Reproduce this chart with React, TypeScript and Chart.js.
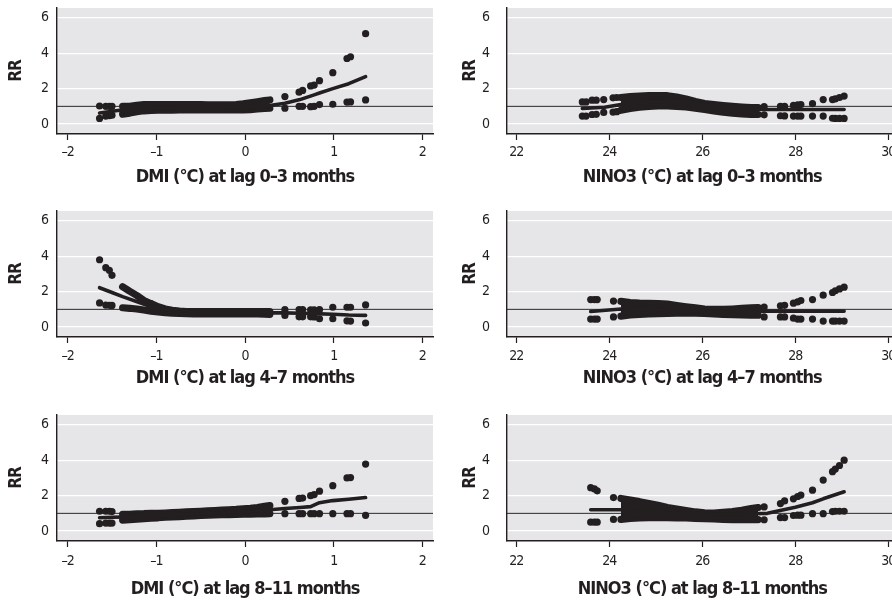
import React, { useEffect, useRef } from 'react';
import { Chart, registerables } from 'chart.js';

Chart.register(...registerables);

const INK = '#231f20';
const PANEL_BG = '#e6e6e8';
const FONT = "'Liberation Sans Narrow', 'Arial Narrow', 'DejaVu Sans Condensed', 'Liberation Sans', sans-serif";

// ---- axes ----
const yTicks = [0, 2, 4, 6];
const yRange = [-0.56, 6.55];
const refRR = 1;
const dmiTicks = [-2, -1, 0, 1, 2];
const dmiRange = [-2.12, 2.12];
const ninoTicks = [22, 24, 26, 28, 30];
const ninoRange = [21.8, 30.2];
const yTitle = 'RR';

const titles = [
  'DMI (°C) at lag 0–3 months',
  'NINO3 (°C) at lag 0–3 months',
  'DMI (°C) at lag 4–7 months',
  'NINO3 (°C) at lag 4–7 months',
  'DMI (°C) at lag 8–11 months',
  'NINO3 (°C) at lag 8–11 months',
];

// ---- DMI x values ----
const dmiSparseX = [-1.64, -1.57, -1.53, -1.5, 0.45, 0.61, 0.65, 0.74, 0.78, 0.84, 0.99, 1.15, 1.19, 1.36];
const dmiDenseX = [-1.38, -1.3, -1.22, -1.14, -1.06, -0.98, -0.9, -0.82, -0.74, -0.66, -0.58, -0.5, -0.42, -0.34, -0.26, -0.18, -0.1, -0.02, 0.06, 0.14, 0.22, 0.28];

// DMI lag 0–3
const dmi03SparseUpper = [1.02, 1.0, 1.0, 1.0, 1.55, 1.8, 1.9, 2.15, 2.2, 2.45, 2.9, 3.7, 3.8, 5.1];
const dmi03SparseLower = [0.32, 0.45, 0.47, 0.5, 0.9, 1.0, 1.0, 0.98, 1.0, 1.1, 1.12, 1.24, 1.25, 1.36];
const dmi03DenseUpper = [1.0, 1.0, 1.06, 1.1, 1.1, 1.1, 1.1, 1.1, 1.1, 1.1, 1.1, 1.1, 1.08, 1.08, 1.08, 1.08, 1.1, 1.14, 1.2, 1.26, 1.32, 1.36];
const dmi03DenseLower = [0.56, 0.62, 0.7, 0.75, 0.77, 0.78, 0.78, 0.79, 0.8, 0.8, 0.8, 0.8, 0.8, 0.8, 0.8, 0.8, 0.8, 0.8, 0.82, 0.85, 0.88, 0.9];
const dmi03EstX = [-1.64, -1.5, -1.3, -1.0, -0.5, 0.0, 0.28, 0.45, 0.62, 0.78, 0.84, 0.99, 1.17, 1.36];
const dmi03Est = [0.62, 0.72, 0.85, 0.93, 0.95, 0.97, 1.05, 1.18, 1.38, 1.65, 1.75, 2.0, 2.28, 2.68];

// DMI lag 4–7
const dmi47SparseUpper = [3.8, 3.35, 3.2, 2.92, 0.98, 0.98, 0.98, 0.97, 0.97, 0.98, 1.12, 1.12, 1.12, 1.25];
const dmi47SparseLower = [1.36, 1.24, 1.23, 1.22, 0.66, 0.58, 0.58, 0.58, 0.57, 0.47, 0.47, 0.35, 0.34, 0.23];
const dmi47DenseUpper = [2.28, 2.02, 1.78, 1.5, 1.32, 1.15, 1.02, 0.95, 0.9, 0.88, 0.88, 0.88, 0.87, 0.87, 0.87, 0.87, 0.87, 0.87, 0.87, 0.87, 0.87, 0.87];
const dmi47DenseLower = [1.09, 1.06, 1.02, 0.96, 0.9, 0.86, 0.82, 0.79, 0.77, 0.76, 0.75, 0.75, 0.75, 0.75, 0.75, 0.74, 0.74, 0.74, 0.74, 0.74, 0.73, 0.72];
const dmi47EstX = [-1.64, -1.5, -1.38, -1.2, -1.0, -0.5, 0.0, 0.28, 0.45, 0.62, 0.78, 0.99, 1.17, 1.36];
const dmi47Est = [2.22, 1.95, 1.72, 1.4, 1.05, 0.82, 0.8, 0.8, 0.8, 0.78, 0.76, 0.72, 0.68, 0.66];
const dmi47FillFrom = -1.06;

// DMI lag 8–11
const dmi811SparseUpper = [1.12, 1.12, 1.12, 1.1, 1.68, 1.84, 1.86, 2.0, 2.06, 2.25, 2.56, 3.0, 3.02, 3.78];
const dmi811SparseLower = [0.42, 0.45, 0.45, 0.45, 0.98, 0.98, 0.98, 0.98, 0.98, 0.98, 0.98, 0.98, 0.98, 0.89];
const dmi811DenseUpper = [0.95, 0.95, 0.97, 0.98, 1.0, 1.0, 1.02, 1.04, 1.06, 1.08, 1.1, 1.12, 1.14, 1.16, 1.18, 1.2, 1.22, 1.25, 1.28, 1.33, 1.4, 1.44];
const dmi811DenseLower = [0.62, 0.64, 0.67, 0.7, 0.73, 0.75, 0.78, 0.8, 0.82, 0.84, 0.86, 0.88, 0.9, 0.91, 0.92, 0.93, 0.94, 0.95, 0.96, 0.97, 0.97, 0.98];
const dmi811EstX = [-1.64, -1.5, -1.3, -1.0, -0.5, 0.0, 0.28, 0.45, 0.62, 0.74, 0.84, 0.99, 1.17, 1.36];
const dmi811Est = [0.75, 0.78, 0.8, 0.87, 0.98, 1.1, 1.2, 1.27, 1.33, 1.38, 1.6, 1.72, 1.8, 1.89];

// ---- NINO3 x values ----
const ninoDenseX = [24.25, 24.45, 24.65, 24.85, 25.05, 25.25, 25.45, 25.65, 25.85, 26.05, 26.25, 26.45, 26.65, 26.85, 27.05, 27.2];
const nino03SparseX = [23.42, 23.5, 23.63, 23.72, 23.88, 24.08, 24.16, 27.33, 27.68, 27.77, 27.96, 28.05, 28.12, 28.37, 28.6, 28.8, 28.86, 28.95, 29.05];
const ninoLagSparseX = [23.6, 23.68, 23.74, 24.09, 27.33, 27.68, 27.77, 27.96, 28.05, 28.12, 28.37, 28.6, 28.8, 28.86, 28.95, 29.05];

// NINO3 lag 0–3
const nino03SparseUpper = [1.25, 1.25, 1.35, 1.35, 1.38, 1.48, 1.5, 0.98, 1.0, 1.0, 1.05, 1.08, 1.1, 1.15, 1.38, 1.38, 1.42, 1.5, 1.58];
const nino03SparseLower = [0.45, 0.45, 0.54, 0.55, 0.66, 0.68, 0.7, 0.52, 0.47, 0.46, 0.45, 0.45, 0.45, 0.45, 0.45, 0.33, 0.32, 0.32, 0.32];
const nino03DenseUpper = [1.5, 1.55, 1.58, 1.6, 1.6, 1.6, 1.52, 1.42, 1.28, 1.16, 1.1, 1.05, 1.0, 0.96, 0.93, 0.93];
const nino03DenseLower = [0.78, 0.88, 0.95, 1.0, 1.02, 1.02, 1.0, 0.97, 0.9, 0.82, 0.74, 0.67, 0.62, 0.58, 0.55, 0.54];
const nino03EstX = [23.42, 23.9, 24.25, 24.8, 25.3, 25.8, 26.3, 26.8, 27.3, 28.0, 28.6, 29.05];
const nino03Est = [0.88, 0.95, 1.1, 1.25, 1.3, 1.2, 0.95, 0.85, 0.82, 0.82, 0.82, 0.82];

// NINO3 lag 4–7
const nino47SparseUpper = [1.55, 1.55, 1.55, 1.47, 1.13, 1.2, 1.23, 1.35, 1.42, 1.5, 1.55, 1.8, 1.95, 2.05, 2.15, 2.25];
const nino47SparseLower = [0.45, 0.45, 0.45, 0.57, 0.57, 0.57, 0.57, 0.5, 0.45, 0.45, 0.45, 0.34, 0.34, 0.34, 0.34, 0.34];
const nino47DenseUpper = [1.45, 1.38, 1.35, 1.34, 1.33, 1.3, 1.22, 1.15, 1.08, 1.02, 1.0, 1.0, 1.02, 1.05, 1.08, 1.1];
const nino47DenseLower = [0.62, 0.68, 0.72, 0.74, 0.76, 0.77, 0.78, 0.78, 0.78, 0.77, 0.75, 0.72, 0.7, 0.68, 0.67, 0.67];
const nino47EstX = [23.6, 24.25, 25.0, 26.0, 27.0, 28.0, 29.05];
const nino47Est = [0.88, 1.02, 1.0, 0.9, 0.9, 0.9, 0.9];

// NINO3 lag 8–11
const nino811SparseUpper = [2.45, 2.38, 2.27, 1.89, 1.36, 1.55, 1.7, 1.82, 1.95, 2.03, 2.31, 2.88, 3.35, 3.5, 3.7, 4.0];
const nino811SparseLower = [0.5, 0.5, 0.5, 0.66, 0.64, 0.76, 0.76, 0.88, 0.9, 0.9, 0.98, 0.98, 1.1, 1.12, 1.12, 1.12];
const nino811DenseUpper = [1.84, 1.75, 1.66, 1.55, 1.45, 1.33, 1.24, 1.16, 1.08, 1.03, 1.02, 1.06, 1.1, 1.17, 1.27, 1.33];
const nino811DenseLower = [0.66, 0.72, 0.75, 0.76, 0.76, 0.76, 0.75, 0.74, 0.72, 0.7, 0.68, 0.66, 0.65, 0.64, 0.64, 0.65];
const nino811EstX = [23.6, 24.3, 25.0, 26.0, 27.0, 27.4, 28.0, 28.37, 28.6, 29.05];
const nino811Est = [1.2, 1.2, 1.05, 0.95, 0.98, 1.0, 1.35, 1.6, 1.82, 2.22];

// ---- layout (pixels) ----
const ROW_TOP = [0, 203, 407];
const TICK_GAP = [18, 19.5, 20.5];
const TITLE_GAP = [43, 41, 48];
const COL = [
  { left: 0, width: 446, yWidth: 57, padRight: 13, tickPad: 9, titlePad: 6 },
  { left: 446, width: 460, yWidth: 61, padRight: 8.4, tickPad: 18, titlePad: 14 },
];
const CANVAS_H = 200;
const PLOT_TOP = 8;
const PLOT_H = 126;

type PanelDef = {
  row: number; col: number; title: string;
  ticks: number[]; range: number[];
  sparseX: number[]; sparseUpper: number[]; sparseLower: number[];
  denseX: number[]; denseUpper: number[]; denseLower: number[];
  estX: number[]; est: number[]; fillFrom: number;
};

const panels: PanelDef[] = [
  { row: 0, col: 0, title: titles[0], ticks: dmiTicks, range: dmiRange, sparseX: dmiSparseX, sparseUpper: dmi03SparseUpper, sparseLower: dmi03SparseLower, denseX: dmiDenseX, denseUpper: dmi03DenseUpper, denseLower: dmi03DenseLower, estX: dmi03EstX, est: dmi03Est, fillFrom: -Infinity },
  { row: 0, col: 1, title: titles[1], ticks: ninoTicks, range: ninoRange, sparseX: nino03SparseX, sparseUpper: nino03SparseUpper, sparseLower: nino03SparseLower, denseX: ninoDenseX, denseUpper: nino03DenseUpper, denseLower: nino03DenseLower, estX: nino03EstX, est: nino03Est, fillFrom: -Infinity },
  { row: 1, col: 0, title: titles[2], ticks: dmiTicks, range: dmiRange, sparseX: dmiSparseX, sparseUpper: dmi47SparseUpper, sparseLower: dmi47SparseLower, denseX: dmiDenseX, denseUpper: dmi47DenseUpper, denseLower: dmi47DenseLower, estX: dmi47EstX, est: dmi47Est, fillFrom: dmi47FillFrom },
  { row: 1, col: 1, title: titles[3], ticks: ninoTicks, range: ninoRange, sparseX: ninoLagSparseX, sparseUpper: nino47SparseUpper, sparseLower: nino47SparseLower, denseX: ninoDenseX, denseUpper: nino47DenseUpper, denseLower: nino47DenseLower, estX: nino47EstX, est: nino47Est, fillFrom: -Infinity },
  { row: 2, col: 0, title: titles[4], ticks: dmiTicks, range: dmiRange, sparseX: dmiSparseX, sparseUpper: dmi811SparseUpper, sparseLower: dmi811SparseLower, denseX: dmiDenseX, denseUpper: dmi811DenseUpper, denseLower: dmi811DenseLower, estX: dmi811EstX, est: dmi811Est, fillFrom: -Infinity },
  { row: 2, col: 1, title: titles[5], ticks: ninoTicks, range: ninoRange, sparseX: ninoLagSparseX, sparseUpper: nino811SparseUpper, sparseLower: nino811SparseLower, denseX: ninoDenseX, denseUpper: nino811DenseUpper, denseLower: nino811DenseLower, estX: nino811EstX, est: nino811Est, fillFrom: -Infinity },
];

const toPts = (xs: number[], ys: number[]) => xs.map((x, i) => ({ x, y: ys[i] }));
const fmtTick = (v: number) => (v < 0 ? '\u2013' + Math.abs(v) : String(v));

const bgPlugin = {
  id: 'panelBg',
  beforeDraw(chart: any) {
    const { ctx, chartArea: a } = chart;
    ctx.save();
    ctx.fillStyle = PANEL_BG;
    ctx.fillRect(a.left, a.top, a.right - a.left, a.bottom - a.top);
    ctx.restore();
    // condensed look of the typeset figure (no narrow font installed)
    ctx.letterSpacing = '-1px';
  },
  afterDraw(chart: any) {
    chart.ctx.letterSpacing = '0px';
  },
};

function buildConfig(p: PanelDef): any {
  const c = COL[p.col];
  const xHeight = CANVAS_H - PLOT_TOP - PLOT_H;
  const tickLen = 6;
  const tickFont = 14;
  const titleFont = 18;
  const tickPad = TICK_GAP[p.row] - tickLen - (tickFont * 1.2) / 2;
  const titleBottom = CANVAS_H - (PLOT_TOP + PLOT_H + TITLE_GAP[p.row]) - (titleFont * 1.2) / 2;
  const line = { borderColor: INK, pointRadius: 0, borderCapStyle: 'round', borderJoinStyle: 'round', tension: 0 };
  return {
    type: 'line',
    data: {
      datasets: [
        { ...line, label: 'estimate', data: toPts(p.estX, p.est), borderWidth: 3.6, fill: false },
        {
          ...line, label: 'upper band', data: toPts(p.denseX, p.denseUpper), borderWidth: 7.2,
          fill: '+1', backgroundColor: INK,
          segment: { backgroundColor: (ctx: any) => (ctx.p0.parsed.x < p.fillFrom ? 'rgba(0,0,0,0)' : undefined) },
        },
        { ...line, label: 'lower band', data: toPts(p.denseX, p.denseLower), borderWidth: 7.2, fill: false },
        { label: 'upper CI', data: toPts(p.sparseX, p.sparseUpper), showLine: false, pointRadius: 3.6, pointBackgroundColor: INK, pointBorderWidth: 0, borderColor: INK },
        { label: 'lower CI', data: toPts(p.sparseX, p.sparseLower), showLine: false, pointRadius: 3.6, pointBackgroundColor: INK, pointBorderWidth: 0, borderColor: INK },
        { label: 'RR = 1', data: [{ x: p.range[0], y: refRR }, { x: p.range[1], y: refRR }], borderColor: '#2a2a2a', borderWidth: 1, pointRadius: 0, fill: false },
      ],
    },
    options: {
      animation: false,
      responsive: false,
      maintainAspectRatio: false,
      events: [],
      layout: { padding: { top: PLOT_TOP, right: c.padRight, left: 0, bottom: 0 } },
      plugins: { legend: { display: false }, tooltip: { enabled: false } },
      scales: {
        x: {
          type: 'linear',
          min: p.range[0],
          max: p.range[1],
          afterBuildTicks: (s: any) => { s.ticks = p.ticks.map((v) => ({ value: v })); },
          afterFit: (s: any) => { s.height = xHeight; s.paddingLeft = 0; s.paddingRight = 0; },
          grid: { display: true, drawOnChartArea: false, drawTicks: true, tickLength: tickLen, tickColor: INK, tickWidth: 1.2 },
          border: { display: true, color: INK, width: 1.4 },
          ticks: { color: INK, font: { family: FONT, size: tickFont }, padding: tickPad, maxRotation: 0, autoSkip: false, callback: (v: number) => fmtTick(v) },
          title: { display: true, text: p.title, color: INK, font: { family: FONT, size: titleFont, weight: 'bold', lineHeight: 1.2 }, padding: { top: 0, bottom: titleBottom } },
        },
        y: {
          type: 'linear',
          min: yRange[0],
          max: yRange[1],
          afterBuildTicks: (s: any) => { s.ticks = yTicks.map((v) => ({ value: v })); },
          afterFit: (s: any) => { s.width = c.yWidth; s.paddingTop = 0; s.paddingBottom = 0; },
          grid: { color: '#ffffff', lineWidth: 1.3, drawTicks: false },
          border: { display: true, color: INK, width: 1.4 },
          ticks: { color: INK, font: { family: FONT, size: tickFont }, padding: c.tickPad },
          title: { display: true, text: yTitle, color: INK, font: { family: FONT, size: 17, weight: 'bold', lineHeight: 1.2 }, padding: { top: c.titlePad, bottom: 0 } },
        },
      },
    },
    plugins: [bgPlugin],
  };
}

function Panel({ p }: { p: PanelDef }) {
  const ref = useRef<HTMLCanvasElement>(null);
  const c = COL[p.col];
  useEffect(() => {
    if (!ref.current) return;
    const chart = new Chart(ref.current, buildConfig(p));
    return () => chart.destroy();
  }, [p]);
  return (
    <canvas
      ref={ref}
      width={c.width}
      height={CANVAS_H}
      style={{ position: 'absolute', left: c.left, top: ROW_TOP[p.row], width: c.width, height: CANVAS_H }}
    />
  );
}

export default function App() {
  return (
    <div style={{ position: 'fixed', left: 0, top: 0, width: 892, height: 601, overflow: 'hidden', background: '#ffffff' }}>
      {panels.map((p, i) => (
        <Panel key={i} p={p} />
      ))}
    </div>
  );
}
